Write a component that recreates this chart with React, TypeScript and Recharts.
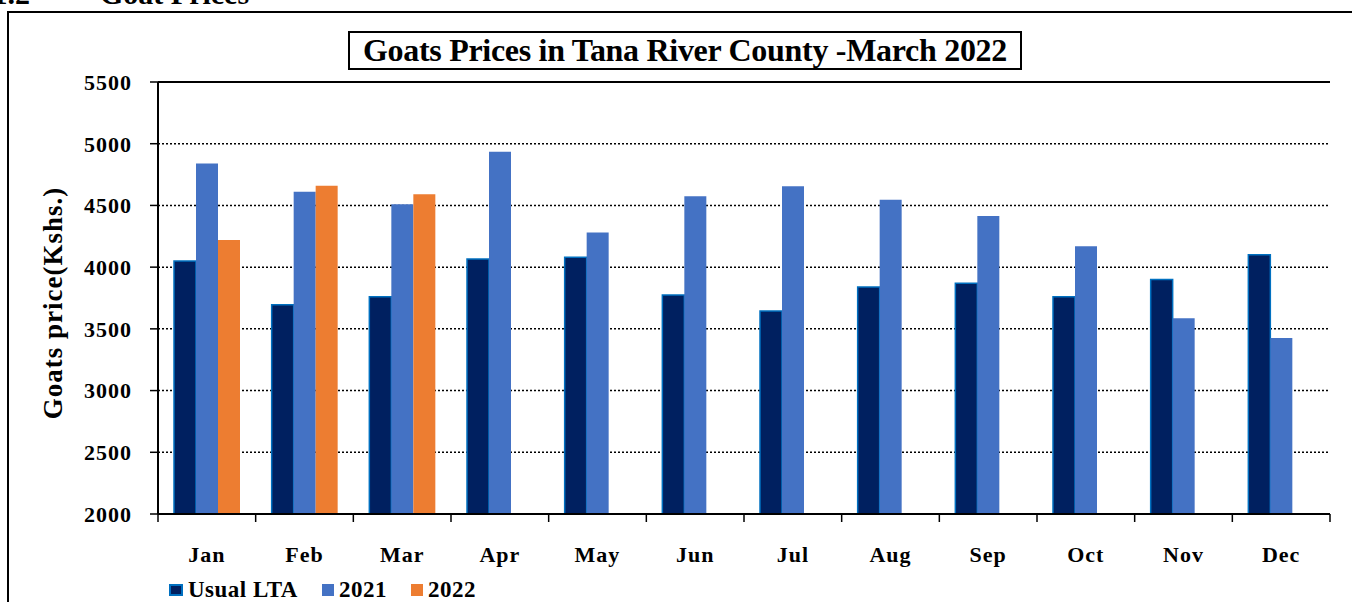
import { BarChart, Bar, XAxis, YAxis, CartesianGrid, ReferenceLine } from 'recharts';

const MONTHS = ['Jan', 'Feb', 'Mar', 'Apr', 'May', 'Jun', 'Jul', 'Aug', 'Sep', 'Oct', 'Nov', 'Dec'];
const USUAL_LTA = [4050, 3695, 3760, 4065, 4080, 3775, 3645, 3840, 3870, 3760, 3900, 4100];
const PRICES_2021 = [4840, 4610, 4510, 4935, 4280, 4575, 4655, 4545, 4415, 4170, 3585, 3425];
const PRICES_2022 = [4220, 4660, 4590, null, null, null, null, null, null, null, null, null];
const Y_TICKS = [2000, 2500, 3000, 3500, 4000, 4500, 5000, 5500];

const SERIES = [
  { key: 'lta', name: 'Usual LTA', fill: '#002060', stroke: '#0070C0' },
  { key: 'y2021', name: '2021', fill: '#4472C4', stroke: 'none' },
  { key: 'y2022', name: '2022', fill: '#ED7D31', stroke: 'none' },
];

const FONT = '"Liberation Serif", "Times New Roman", serif';
const X_TICK_SIZE = 8;
const X_TICK_MARGIN = 24;

const TICK_STYLE = {
  fontSize: 22,
  fontFamily: FONT,
  fontWeight: 700,
  fill: '#000',
  letterSpacing: 1,
};

// month label in the middle of the band, tick marks on the band edges (Excel style)
function MonthTick(props: any) {
  const { x, y, payload, index, visibleTicksCount } = props;
  const half = payload && payload.offset ? payload.offset : 48.8;
  const axisY = y - X_TICK_SIZE - X_TICK_MARGIN;
  const isLast = index === (visibleTicksCount ?? MONTHS.length) - 1;
  return (
    <g>
      <line x1={x - half} x2={x - half} y1={axisY} y2={axisY + X_TICK_SIZE} stroke="#000" strokeWidth={1.5} />
      {isLast && (
        <line x1={x + half} x2={x + half} y1={axisY} y2={axisY + X_TICK_SIZE} stroke="#000" strokeWidth={1.5} />
      )}
      <text x={x} y={y} dy="0.71em" textAnchor="middle" style={TICK_STYLE}>
        {payload.value}
      </text>
    </g>
  );
}

function YLabel(props: any) {
  const vb = props.viewBox || { x: 0, y: 82, width: 158, height: 432 };
  const cx = vb.x + 53;
  const cy = vb.y + vb.height / 2 + 5;
  return (
    <text
      x={cx}
      y={cy}
      transform={`rotate(-90 ${cx} ${cy})`}
      textAnchor="middle"
      dominantBaseline="central"
      style={{ fontSize: 27, fontFamily: FONT, fontWeight: 700, letterSpacing: 1 }}
      fill="#000"
    >
      Goats price(Kshs.)
    </text>
  );
}

export default function App() {
  const data = MONTHS.map((m, i) => ({
    month: m,
    lta: USUAL_LTA[i],
    y2021: PRICES_2021[i],
    y2022: PRICES_2022[i],
  }));

  return (
    <div
      style={{
        position: 'absolute',
        left: 0,
        top: 0,
        width: 1352,
        height: 602,
        overflow: 'hidden',
        background: '#fff',
        fontFamily: FONT,
      }}
    >
      {/* section heading, cut off by the top of the page as in the source */}
      <svg style={{ position: 'absolute', left: 0, top: 0 }} width={400} height={20}>
        <text x={-30} y={4} style={{ fontSize: 30, fontFamily: FONT, fontWeight: 700 }} fill="#000">
          4.1.2
        </text>
        <text x={100} y={4} style={{ fontSize: 30, fontFamily: FONT, fontWeight: 700 }} fill="#000">
          Goat Prices
        </text>
      </svg>

      {/* outer frame */}
      <div
        style={{
          position: 'absolute',
          left: 7,
          top: 11,
          width: 2000,
          height: 2000,
          border: '2px solid #000',
        }}
      />

      <div style={{ position: 'absolute', left: 0, top: 0 }}>
        <BarChart
          width={1352}
          height={602}
          data={data}
          margin={{ top: 82, right: 22, bottom: 0, left: 0 }}
          barCategoryGap={16}
          barGap={0}
        >
          <CartesianGrid
            yAxisId="left"
            vertical={false}
            stroke="#000"
            strokeWidth={1.5}
            strokeDasharray="2 2"
          />
          <XAxis
            dataKey="month"
            height={88}
            tickSize={X_TICK_SIZE}
            tickMargin={X_TICK_MARGIN}
            tickLine={false}
            axisLine={{ stroke: '#000', strokeWidth: 2 }}
            tick={<MonthTick />}
            interval={0}
          />
          <YAxis
            yAxisId="left"
            width={158}
            domain={[2000, 5500]}
            ticks={Y_TICKS}
            interval={0}
            tickSize={8}
            tickMargin={18}
            tick={TICK_STYLE}
            tickLine={{ stroke: '#000', strokeWidth: 1.5 }}
            axisLine={{ stroke: '#000', strokeWidth: 2 }}
            label={YLabel}
          />
          <YAxis
            yAxisId="right"
            orientation="right"
            width={0}
            domain={[0, 1]}
            tick={false}
            tickLine={false}
            axisLine={{ stroke: '#000', strokeWidth: 2 }}
          />
          <ReferenceLine yAxisId="left" y={5500} stroke="#000" strokeWidth={2} />
          {SERIES.map((s) => (
            <Bar
              key={s.key}
              dataKey={s.key}
              name={s.name}
              yAxisId="left"
              fill={s.fill}
              stroke={s.stroke}
              strokeWidth={s.stroke === 'none' ? 0 : 1.5}
              barSize={22}
              isAnimationActive={false}
            />
          ))}
        </BarChart>
      </div>

      {/* chart title */}
      <div
        style={{
          position: 'absolute',
          left: 348,
          top: 31,
          width: 670,
          height: 35,
          border: '2px solid #000',
          display: 'flex',
          alignItems: 'center',
          justifyContent: 'center',
          fontSize: 32,
          fontWeight: 700,
          letterSpacing: -0.3,
          whiteSpace: 'nowrap',
          background: '#fff',
        }}
      >
        Goats Prices in Tana River County -March 2022
      </div>

      {/* legend */}
      <div
        style={{
          position: 'absolute',
          left: 169,
          top: 578,
          display: 'flex',
          alignItems: 'center',
          fontSize: 23,
          fontWeight: 700,
          letterSpacing: 0.5,
          lineHeight: '24px',
        }}
      >
        {SERIES.map((s) => (
          <div key={s.key} style={{ display: 'flex', alignItems: 'center', marginRight: 24 }}>
            <span
              style={{
                display: 'inline-block',
                width: s.stroke === 'none' ? 12 : 10,
                height: s.stroke === 'none' ? 12 : 8,
                background: s.fill,
                border: s.stroke === 'none' ? 'none' : `2px solid ${s.stroke}`,
                marginRight: 5,
              }}
            />
            <span>{s.name}</span>
          </div>
        ))}
      </div>
    </div>
  );
}
